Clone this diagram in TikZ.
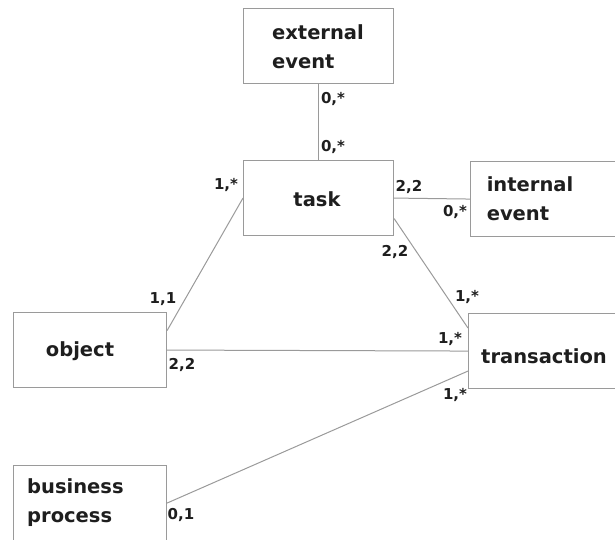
\documentclass[tikz,border=0pt]{standalone}
\usepackage{fontspec}
\setmainfont{DejaVu Sans}
\definecolor{linegray}{HTML}{9A9A9A}
\definecolor{txt}{HTML}{1E1E1E}
\begin{document}
\begin{tikzpicture}[x=1pt,y=-1pt,
  box/.style={draw=linegray,line width=1.1pt,minimum width=#1,minimum height=75pt,inner sep=0pt,anchor=north west},
  box/.default=150pt,
  conn/.style={draw=linegray,line width=1pt},
  main/.style={text=txt,font=\fontsize{19.5}{29}\selectfont\bfseries,align=left,inner sep=0pt},
  card/.style={text=txt,font=\fontsize{15}{18}\selectfont\bfseries,inner sep=0pt}
]
\useasboundingbox (0,0) rectangle (615,539);
\clip (0,0) rectangle (615,539);
% boxes
\node[box=150pt] (ext) at (243,8) {};
\node[box=150pt] (task) at (243,160) {};
\node[box=150pt] (int) at (470,161) {};
\node[box=153pt] (obj) at (13,312) {};
\node[box=152pt] (trans) at (468,313) {};
\node[box=153pt] (bp) at (13,465) {};
% texts
\node[main] (extT) at (318,47) {external\\event};
\node[main] (taskT) at (317,199) {task};
\node[main] (intT) at (530,199) {internal\\event};
\node[main] (objT) at (80,351) {object};
\node[main] (transT) at (544,356) {transaction};
\node[main,anchor=west] (bpT) at (27,503) {business\\process};
% connectors
\draw[conn] (ext.south) -- (task.north);
\draw[conn] (task.east) -- (int.west);
\draw[conn] ([yshift=19.5pt]obj.east) -- (task.west);
\draw[conn] ([yshift=-20.5pt]task.east) -- ([yshift=23pt]trans.west);
\draw[conn] (obj.east) -- (trans.west);
\draw[conn] ([yshift=-20pt]trans.west) -- (bp.east);
% cardinalities
\node[card] (c1) at (333,99) {0,*};
\node[card] (c2) at (333,147) {0,*};
\node[card] (c3) at (226,185) {1,*};
\node[card] (c4) at (409,187) {2,2};
\node[card] (c5) at (455,212) {0,*};
\node[card] (c6) at (395,252) {2,2};
\node[card] (c7) at (467,297) {1,*};
\node[card] (c8) at (450,339) {1,*};
\node[card] (c9) at (455,395) {1,*};
\node[card] (c10) at (163,299) {1,1};
\node[card] (c11) at (182,365) {2,2};
\node[card] (c12) at (181,515) {0,1};
\end{tikzpicture}
\end{document}
